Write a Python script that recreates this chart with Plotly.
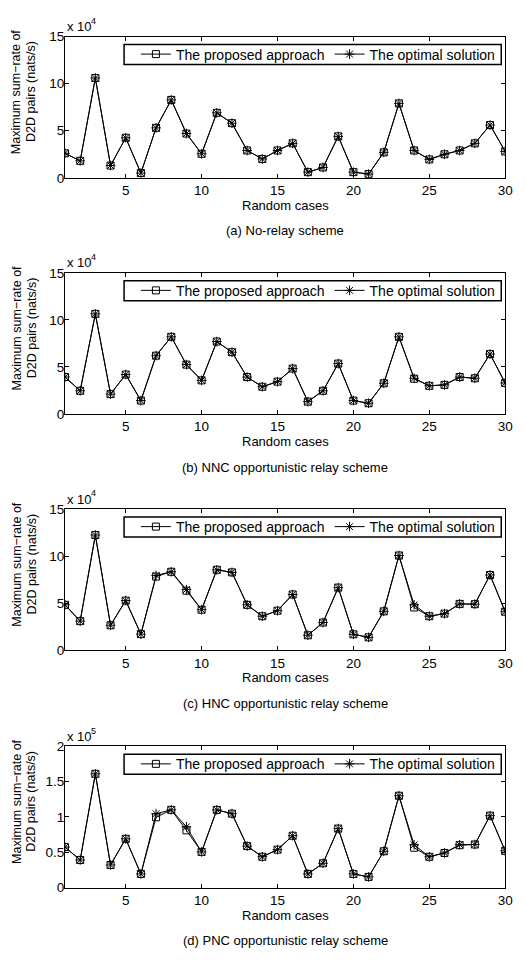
import plotly.graph_objects as go

# Figure size in pixels
W, H = 526, 963

cases = list(range(1, 31))

# (a) No-relay scheme, x 10^4 nats/s
norelay_proposed = [2.6, 1.8, 10.6, 1.3, 4.25, 0.5, 5.3, 8.27, 4.7, 2.55,
                    6.9, 5.8, 2.9, 2.0, 2.9, 3.66, 0.6, 1.1, 4.4, 0.6,
                    0.4, 2.7, 7.9, 2.9, 1.95, 2.5, 2.9, 3.66, 5.6, 2.8]
norelay_optimal = [2.6, 1.8, 10.6, 1.3, 4.25, 0.5, 5.3, 8.27, 4.7, 2.55,
                   6.9, 5.8, 2.9, 2.0, 2.9, 3.66, 0.6, 1.1, 4.4, 0.6,
                   0.4, 2.7, 7.9, 2.9, 1.95, 2.5, 2.9, 3.66, 5.6, 2.8]

# (b) NNC opportunistic relay scheme, x 10^4 nats/s
nnc_proposed = [3.93, 2.47, 10.64, 2.12, 4.2, 1.43, 6.2, 8.2, 5.25, 3.58,
                7.7, 6.57, 3.93, 2.9, 3.44, 4.83, 1.32, 2.47, 5.36, 1.43,
                1.15, 3.27, 8.2, 3.75, 3.0, 3.1, 3.93, 3.8, 6.37, 3.3]
nnc_optimal = [3.93, 2.47, 10.64, 2.12, 4.2, 1.43, 6.2, 8.2, 5.25, 3.58,
               7.7, 6.57, 3.93, 2.9, 3.44, 4.83, 1.32, 2.47, 5.36, 1.43,
               1.15, 3.27, 8.2, 3.8, 3.0, 3.1, 3.93, 3.8, 6.37, 3.3]

# (c) HNC opportunistic relay scheme, x 10^4 nats/s
hnc_proposed = [4.83, 3.1, 12.24, 2.66, 5.28, 1.72, 7.83, 8.34, 6.33, 4.31,
                8.55, 8.28, 4.83, 3.62, 4.21, 5.93, 1.6, 2.95, 6.66, 1.7,
                1.38, 4.14, 10.07, 4.55, 3.62, 3.9, 4.93, 4.9, 8.0, 4.1]
hnc_optimal = [4.83, 3.1, 12.24, 2.66, 5.28, 1.72, 7.95, 8.34, 6.45, 4.31,
               8.55, 8.28, 4.83, 3.62, 4.21, 5.93, 1.6, 2.95, 6.66, 1.7,
               1.38, 4.14, 10.07, 4.83, 3.62, 3.9, 4.93, 4.9, 8.0, 4.1]

# (d) PNC opportunistic relay scheme, x 10^5 nats/s
pnc_proposed = [0.573, 0.39, 1.61, 0.32, 0.69, 0.193, 0.995, 1.10, 0.81, 0.505,
                1.10, 1.046, 0.587, 0.436, 0.537, 0.734, 0.193, 0.344, 0.835, 0.193,
                0.151, 0.514, 1.30, 0.564, 0.436, 0.49, 0.6, 0.61, 1.018, 0.52]
pnc_optimal = [0.573, 0.39, 1.61, 0.32, 0.69, 0.193, 1.046, 1.10, 0.86, 0.505,
               1.10, 1.046, 0.587, 0.436, 0.537, 0.734, 0.193, 0.344, 0.835, 0.193,
               0.151, 0.514, 1.30, 0.605, 0.436, 0.49, 0.607, 0.61, 1.018, 0.52]

x_ticks = [5, 10, 15, 20, 25, 30]
y_ticks_e4 = [0, 5, 10, 15]
y_ticks_e5 = [0, 0.5, 1, 1.5, 2]

captions = ["(a) No-relay scheme",
            "(b) NNC opportunistic relay scheme",
            "(c) HNC opportunistic relay scheme",
            "(d) PNC opportunistic relay scheme"]

panels = [
    (norelay_proposed, norelay_optimal, 1e4, 4, y_ticks_e4, 15),
    (nnc_proposed, nnc_optimal, 1e4, 4, y_ticks_e4, 15),
    (hnc_proposed, hnc_optimal, 1e4, 4, y_ticks_e4, 15),
    (pnc_proposed, pnc_optimal, 1e5, 5, y_ticks_e5, 2),
]

FONT = "Liberation Sans, Arial, Helvetica, sans-serif"
TICK_SIZE = 13.5


def px(x):
    return x / W


def py(y):
    return 1 - y / H


# Pixel geometry of each axes box
LEFT, RIGHT = 66, 513
TOPS = [30, 270, 510, 751]
PLOT_H = 143.5
# Legend frame (pixels, relative to the axes box)
LEG_X0, LEG_X1 = 126, 509
LEG_DY0, LEG_H = 8, 20.5

fig = go.Figure()
layout = dict(
    width=W, height=H,
    margin=dict(l=0, r=0, t=0, b=0),
    paper_bgcolor="white", plot_bgcolor="white",
    font=dict(family=FONT, size=TICK_SIZE, color="black"),
    annotations=[], shapes=[],
)


def note(text, x, y, size, **kw):
    return dict(text=text, xref="paper", yref="paper", x=px(x), y=py(y),
                showarrow=False, font=dict(family=FONT, size=size,
                                           color="black"), **kw)


for i, (prop, opt, scale, expo, yt, ymax) in enumerate(panels):
    n = i + 1
    sfx = "" if n == 1 else str(n)
    leg = "legend" if n == 1 else f"legend{n}"
    top = TOPS[i]
    bot = top + PLOT_H

    fig.add_trace(go.Scatter(
        x=cases, y=[v * scale for v in prop], mode="lines+markers",
        name="The proposed approach",
        line=dict(color="black", width=1),
        marker=dict(symbol="square-open", size=7, color="black",
                    line=dict(color="black", width=1)),
        xaxis=f"x{sfx}", yaxis=f"y{sfx}", legend=leg,
    ))
    fig.add_trace(go.Scatter(
        x=cases, y=[v * scale for v in opt], mode="lines+markers",
        name="The optimal solution",
        line=dict(color="black", width=1),
        marker=dict(symbol="asterisk-open", size=8, color="black",
                    line=dict(color="black", width=1)),
        xaxis=f"x{sfx}", yaxis=f"y{sfx}", legend=leg,
    ))

    axis_common = dict(
        showline=True, linecolor="black", linewidth=1, mirror="allticks",
        ticks="inside", ticklen=4, tickwidth=1, tickcolor="black",
        showgrid=False, zeroline=False,
        tickfont=dict(family=FONT, size=TICK_SIZE, color="black"),
    )
    layout[f"xaxis{sfx}"] = dict(
        axis_common, domain=[px(LEFT), px(RIGHT)], range=[1, 30],
        anchor=f"y{sfx}", tickvals=x_ticks,
        ticktext=[str(t) for t in x_ticks],
    )
    layout[f"yaxis{sfx}"] = dict(
        axis_common, domain=[py(bot), py(top)], range=[0, ymax * scale],
        anchor=f"x{sfx}", tickvals=[t * scale for t in yt],
        ticktext=[f"{t:g}" for t in yt], ticklabelstandoff=-3,
    )

    # Opaque legend frame, with the legend entries drawn on top of it
    ly0 = top + LEG_DY0
    layout["shapes"].append(dict(
        type="rect", xref="paper", yref="paper", layer="above",
        x0=px(LEG_X0), x1=px(LEG_X1), y0=py(ly0 + LEG_H), y1=py(ly0),
        line=dict(color="black", width=1.5), fillcolor="white",
    ))
    layout[leg] = dict(
        orientation="h", x=px(LEG_X0 + 12), xanchor="left",
        y=py(ly0 + LEG_H / 2), yanchor="middle",
        bgcolor="rgba(0,0,0,0)", borderwidth=0,
        font=dict(family=FONT, size=14, color="black"),
    )

    mid = (top + bot) / 2
    layout["annotations"] += [
        note("x 10", LEFT, top - 10, 13, xanchor="left", yanchor="middle"),
        note(str(expo), LEFT + 24, top - 16, 9, xanchor="left",
             yanchor="middle"),
        note("Maximum sum\u2212rate of", 17, mid - 16, 12.5,
             xanchor="center", yanchor="middle", textangle=-90),
        note("D2D pairs (nats/s)", 32, mid - 16, 12.5,
             xanchor="center", yanchor="middle", textangle=-90),
        note("Random cases", (LEFT + RIGHT) / 2, bot + 28, 13,
             xanchor="center", yanchor="middle"),
        note(captions[i], (LEFT + RIGHT) / 2, bot + 54, 13,
             xanchor="center", yanchor="middle"),
    ]

fig.update_layout(**layout)
fig.write_html("out.html")
